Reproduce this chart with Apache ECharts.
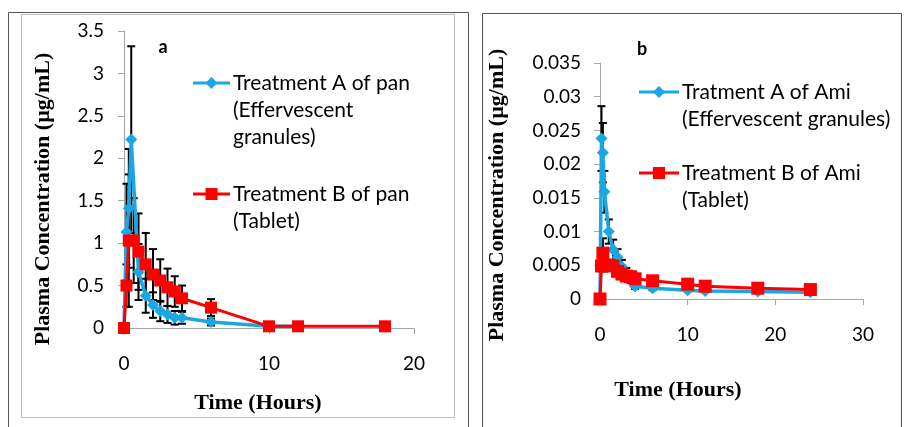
<!DOCTYPE html>
<html>
<head>
<meta charset="utf-8">
<script src="https://cdn.jsdelivr.net/npm/echarts@6.0.0/dist/echarts.min.js"></script>
<style>
  html, body { margin: 0; padding: 0; background: #fff; }
  #chart { width: 906px; height: 427px; }
</style>
</head>
<body>
<div id="chart"></div>
<script>
// panel a - pan, time in hours, conc in ug/mL, sd for the error bars
var panTimeA = [0, 0.17, 0.33, 0.5, 1, 1.5, 2, 2.5, 3, 3.5, 4, 6, 10, 12];
var panConcA = [0, 1.13, 1.41, 2.22, 0.66, 0.38, 0.27, 0.2, 0.16, 0.12, 0.12, 0.07, 0.02, 0.02];
var panSdA   = [0, 0.57, 0.7, 1.1, 0.33, 0.2, 0.15, 0.12, 0.1, 0.08, 0.07, 0.04, 0, 0];

var panTimeB = [0, 0.17, 0.33, 0.67, 1, 1.5, 2, 2.5, 3, 3.5, 4, 6, 10, 12, 18];
var panConcB = [0, 0.5, 1.03, 1.03, 0.9, 0.75, 0.63, 0.56, 0.48, 0.43, 0.35, 0.24, 0.02, 0.02, 0.02];
var panSdB   = [0, 0.25, 0.78, 0.5, 0.45, 0.37, 0.3, 0.25, 0.22, 0.18, 0.15, 0.1, 0, 0, 0];

// panel b - ami
var amiTime  = [0, 0.17, 0.33, 0.5, 1, 1.5, 2, 2.5, 3, 3.5, 4, 6, 10, 12, 18, 24];
var amiConcA = [0, 0.0238, 0.0217, 0.0159, 0.0100, 0.0073, 0.0062, 0.0048, 0.0038, 0.003, 0.0019, 0.0016, 0.0013, 0.0012, 0.0011, 0.001];
var amiSdA   = [0, 0.0048, 0.0044, 0.0031, 0.0018, 0.0015, 0.0012, 0.001, 0.0008, 0.0006, 0.0004, 0.0003, 0.0002, 0.0002, 0.0002, 0.0002];
var amiConcB = [0, 0.0049, 0.0068, 0.005, 0.005, 0.0049, 0.0041, 0.0037, 0.0034, 0.0033, 0.003, 0.0027, 0.0022, 0.0019, 0.0016, 0.0014];
var amiSdB   = [0, 0.0008, 0.0022, 0.0009, 0.0008, 0.0007, 0.0006, 0.0005, 0.0005, 0.0004, 0.0004, 0.0004, 0.0003, 0.0003, 0.0002, 0.0002];

var panNameA = 'Treatment A of pan (Effervescent granules)';
var panNameB = 'Treatment B of pan (Tablet)';
var amiNameA = 'Tratment A of Ami (Effervescent granules)';
var amiNameB = 'Treatment B of Ami (Tablet)';

var BLUE = '#1ba6e4';
var RED = '#ff0000';
var AXIS = '#a6a6a6';
var SANS = 'Lato';
var SERIF = '"Liberation Serif", "Times New Roman", serif';

function pts(t, c) {
  return t.map(function (x, i) { return [x, c[i]]; });
}
function errs(t, c, s) {
  return t.map(function (x, i) { return [x, c[i], s[i]]; })
          .filter(function (d) { return d[2] > 0; });
}

function renderErr(params, api) {
  var t = api.value(0), m = api.value(1), s = api.value(2);
  var top = api.coord([t, m + s]);
  var bot = api.coord([t, m - s]);
  var cap = 4;
  var st = { stroke: '#000', lineWidth: 2 };
  return {
    type: 'group',
    children: [
      { type: 'line', shape: { x1: top[0], y1: top[1], x2: bot[0], y2: bot[1] }, style: st },
      { type: 'line', shape: { x1: top[0] - cap, y1: top[1], x2: top[0] + cap, y2: top[1] }, style: st },
      { type: 'line', shape: { x1: bot[0] - cap, y1: bot[1], x2: bot[0] + cap, y2: bot[1] }, style: st }
    ]
  };
}

function axisX(idx, max) {
  return {
    type: 'value', gridIndex: idx, min: 0, max: max, interval: 10,
    splitLine: { show: false },
    axisLine: { lineStyle: { color: AXIS, width: 1 } },
    axisTick: { inside: false, length: 6, lineStyle: { color: AXIS } },
    axisLabel: { color: '#000', fontFamily: SANS, fontSize: 19, margin: 26 }
  };
}
function axisY(idx, max, step, margin) {
  return {
    type: 'value', gridIndex: idx, min: 0, max: max, interval: step,
    splitLine: { show: false },
    axisLine: { show: true, lineStyle: { color: AXIS, width: 1 } },
    axisTick: { show: true, length: 6, lineStyle: { color: AXIS } },
    axisLabel: { color: '#000', fontFamily: SANS, fontSize: 19, margin: margin }
  };
}

function lineSeries(name, data, xi, symbol, color, size, width, z) {
  return {
    name: name, type: 'line', xAxisIndex: xi, yAxisIndex: xi,
    data: data, symbol: symbol, symbolSize: size, showSymbol: true,
    lineStyle: { color: color, width: width },
    itemStyle: { color: color },
    z: z, animation: false
  };
}
function errSeries(data, xi) {
  return {
    type: 'custom', xAxisIndex: xi, yAxisIndex: xi,
    renderItem: renderErr, data: data, clip: false,
    encode: { x: 0, y: 1 }, z: 2, animation: false
  };
}

// legend samples + text (multi line, marker on first line)
function legendItem(x, y, w, symbol, color, lines) {
  var mx = x + w / 2;
  var mark;
  if (symbol === 'diamond') {
    mark = { type: 'polygon', shape: { points: [[mx, y - 6], [mx + 6, y], [mx, y + 6], [mx - 6, y]] }, style: { fill: color } };
  } else {
    mark = { type: 'rect', shape: { x: mx - 6, y: y - 6, width: 12, height: 12 }, style: { fill: color } };
  }
  return [
    { type: 'line', shape: { x1: x, y1: y, x2: x + w, y2: y }, style: { stroke: color, lineWidth: 3 } },
    mark,
    { type: 'text', x: x + w + 3, y: y - 13.5,
      style: { text: lines.join('\n'), fill: '#000', font: '21px ' + SANS, lineHeight: 27, verticalAlign: 'top', align: 'left' } }
  ];
}

var chart = echarts.init(document.getElementById('chart'), null, { renderer: 'canvas' });

var graphics = [
  // panel frames
  { type: 'rect', shape: { x: 8.5, y: 12.5, width: 460, height: 420 }, style: { fill: 'none', stroke: '#555', lineWidth: 1 }, z: -1 },
  { type: 'rect', shape: { x: 21.5, y: 14.5, width: 433, height: 403 }, style: { fill: 'none', stroke: '#bbb', lineWidth: 1 }, z: -1 },
  { type: 'rect', shape: { x: 482.5, y: 13.5, width: 419, height: 420 }, style: { fill: 'none', stroke: '#555', lineWidth: 1 }, z: -1 },
  // panel letters
  { type: 'text', x: 163, y: 47, style: { text: 'a', font: 'bold 18px ' + SANS, fill: '#000', align: 'center', verticalAlign: 'middle' } },
  { type: 'text', x: 642, y: 49, style: { text: 'b', font: 'bold 18px ' + SANS, fill: '#000', align: 'center', verticalAlign: 'middle' } },
  // axis titles
  { type: 'text', x: 258, y: 403, style: { text: 'Time (Hours)', font: 'bold 22px ' + SERIF, fill: '#000', align: 'center', verticalAlign: 'middle' } },
  { type: 'text', x: 678, y: 390, style: { text: 'Time (Hours)', font: 'bold 22px ' + SERIF, fill: '#000', align: 'center', verticalAlign: 'middle' } },
  { type: 'text', x: 43, y: 199, rotation: Math.PI / 2, style: { text: 'Plasma Concentration (µg/mL)', font: 'bold 22px ' + SERIF, fill: '#000', align: 'center', verticalAlign: 'middle' } },
  { type: 'text', x: 497, y: 195, rotation: Math.PI / 2, style: { text: 'Plasma Concentration (µg/mL)', font: 'bold 22px ' + SERIF, fill: '#000', align: 'center', verticalAlign: 'middle' } }
];
graphics = graphics
  .concat(legendItem(193, 83, 37, 'diamond', BLUE, ['Treatment A of pan', '(Effervescent', 'granules)']))
  .concat(legendItem(193, 194, 37, 'rect', RED, ['Treatment B of pan', '(Tablet)']))
  .concat(legendItem(639, 92, 40, 'diamond', BLUE, ['Tratment A of Ami', '(Effervescent granules)']))
  .concat(legendItem(639, 173, 40, 'rect', RED, ['Treatment B of Ami', '(Tablet)']));

var option = {
  animation: false,
  backgroundColor: '#fff',
  grid: [
    { left: 124, top: 31, width: 290, height: 297 },
    { left: 600, top: 63, width: 263, height: 236 }
  ],
  xAxis: [axisX(0, 20), axisX(1, 30)],
  yAxis: [axisY(0, 3.5, 0.5, 20), axisY(1, 0.035, 0.005, 19)],
  graphic: graphics,
  series: [
    errSeries(errs(panTimeA, panConcA, panSdA), 0),
    errSeries(errs(panTimeB, panConcB, panSdB), 0),
    lineSeries(panNameA, pts(panTimeA, panConcA), 0, 'diamond', BLUE, 12, 3.5, 3),
    lineSeries(panNameB, pts(panTimeB, panConcB), 0, 'rect', RED, 12, 3, 4),
    errSeries(errs(amiTime, amiConcA, amiSdA), 1),
    errSeries(errs(amiTime, amiConcB, amiSdB), 1),
    lineSeries(amiNameA, pts(amiTime, amiConcA), 1, 'diamond', BLUE, 12, 3.5, 3),
    lineSeries(amiNameB, pts(amiTime, amiConcB), 1, 'rect', RED, 13, 3, 4)
  ]
};
chart.setOption(option);
</script>
</body>
</html>
